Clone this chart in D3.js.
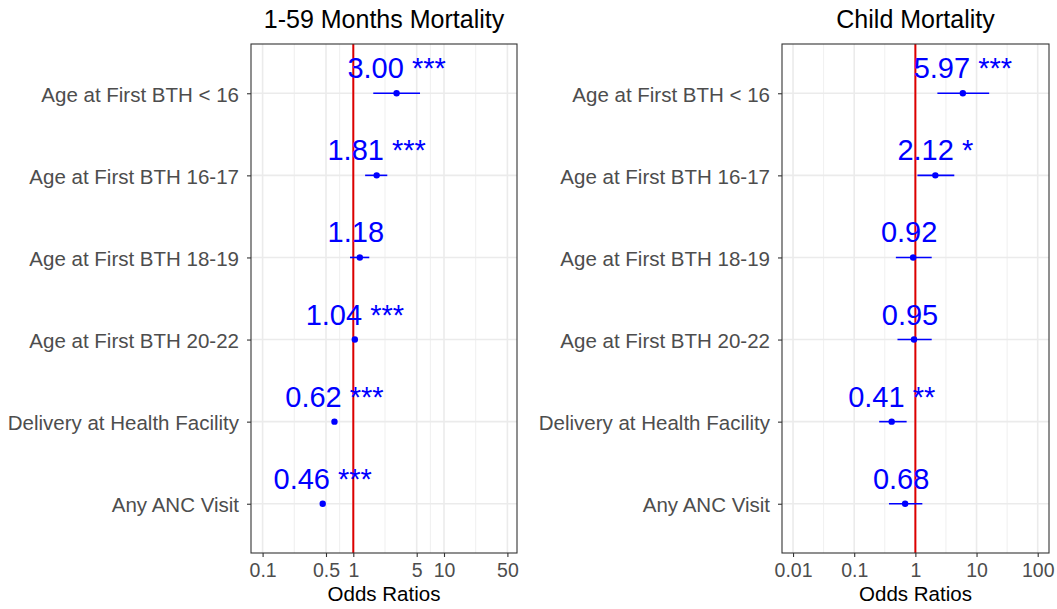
<!DOCTYPE html>
<html>
<head>
<meta charset="utf-8">
<script src="https://cdn.jsdelivr.net/npm/d3@7"></script>
<style>
  html, body { margin: 0; padding: 0; background: #fff; }
  svg { display: block; font-family: "Liberation Sans", Arial, sans-serif; }
</style>
</head>
<body>
<svg id="chart" width="1057" height="609"></svg>
<script>
// ---- data ----
const categories = [
  "Age at First BTH < 16",
  "Age at First BTH 16-17",
  "Age at First BTH 18-19",
  "Age at First BTH 20-22",
  "Delivery at Health Facility",
  "Any ANC Visit"
];
const titles = ["1-59 Months Mortality", "Child Mortality"];

const or1  = [3.00, 1.81, 1.18, 1.04, 0.62, 0.46];
const lo1  = [1.66, 1.35, 0.92, 1.02, 0.60, 0.44];
const hi1  = [5.44, 2.37, 1.50, 1.06, 0.64, 0.48];
const sig1 = ["***", "***", "", "***", "***", "***"];

const or2  = [5.97, 2.12, 0.92, 0.95, 0.41, 0.68];
const lo2  = [2.29, 1.08, 0.48, 0.51, 0.256, 0.37];
const hi2  = [16.1, 4.33, 1.85, 1.85, 0.72, 1.30];
const sig2 = ["***", "*", "", "", "**", ""];

const ticks1 = [0.1, 0.5, 1, 5, 10, 50];
const tickLabels1 = ["0.1", "0.5", "1", "5", "10", "50"];
const ticks2 = [0.01, 0.1, 1, 10, 100];
const tickLabels2 = ["0.01", "0.1", "1", "10", "100"];
const domain1 = [0.0745, 63.8];
const domain2 = [0.0066, 153];

// ---- layout ----
const svg = d3.select("#chart");
const yTop = 44, yBottom = 553;

const panels = [
  { x0: 251, x1: 517, title: titles[0], or: or1, lo: lo1, hi: hi1, sig: sig1,
    ticks: ticks1, labels: tickLabels1, domain: domain1 },
  { x0: 782, x1: 1049, title: titles[1], or: or2, lo: lo2, hi: hi2, sig: sig2,
    ticks: ticks2, labels: tickLabels2, domain: domain2 }
];

const y = d3.scalePoint().domain(categories).range([yTop, yBottom]).padding(0.6);

panels.forEach(p => {
  const x = d3.scaleLog().domain(p.domain).range([p.x0, p.x1]);
  const g = svg.append("g");

  // minor grid: midpoints between breaks in log space
  const lt = p.ticks.map(Math.log10);
  const minors = [];
  for (let i = 0; i < lt.length - 1; i++) minors.push(Math.pow(10, (lt[i] + lt[i + 1]) / 2));

  g.selectAll("line.minor").data(minors).enter().append("line")
    .attr("x1", d => x(d)).attr("x2", d => x(d))
    .attr("y1", yTop).attr("y2", yBottom)
    .attr("stroke", "#ebebeb").attr("stroke-width", 0.8);

  g.selectAll("line.majx").data(p.ticks).enter().append("line")
    .attr("x1", d => x(d)).attr("x2", d => x(d))
    .attr("y1", yTop).attr("y2", yBottom)
    .attr("stroke", "#ebebeb").attr("stroke-width", 1.6);

  g.selectAll("line.majy").data(categories).enter().append("line")
    .attr("x1", p.x0).attr("x2", p.x1)
    .attr("y1", d => y(d)).attr("y2", d => y(d))
    .attr("stroke", "#ebebeb").attr("stroke-width", 1.6);

  // reference line at 1
  g.append("line")
    .attr("x1", x(1)).attr("x2", x(1))
    .attr("y1", yTop).attr("y2", yBottom)
    .attr("stroke", "#dd0000").attr("stroke-width", 2);

  // error bars
  g.selectAll("line.ci").data(categories).enter().append("line")
    .attr("x1", (d, i) => x(p.lo[i])).attr("x2", (d, i) => x(p.hi[i]))
    .attr("y1", d => y(d)).attr("y2", d => y(d))
    .attr("stroke", "#0000ff").attr("stroke-width", 1.6);

  // points
  g.selectAll("circle").data(categories).enter().append("circle")
    .attr("cx", (d, i) => x(p.or[i])).attr("cy", d => y(d))
    .attr("r", 3.2).attr("fill", "#0000ff");

  // value labels
  g.selectAll("text.val").data(categories).enter().append("text")
    .attr("x", (d, i) => x(p.or[i])).attr("y", d => y(d) - 15)
    .attr("text-anchor", "middle")
    .style("white-space", "pre")
    .attr("font-size", 29).attr("fill", "#0000ff")
    .text((d, i) => p.or[i].toFixed(2) + " " + p.sig[i]);

  // panel border
  g.append("rect")
    .attr("x", p.x0).attr("y", yTop)
    .attr("width", p.x1 - p.x0).attr("height", yBottom - yTop)
    .attr("fill", "none").attr("stroke", "#333333").attr("stroke-width", 1.1);

  // x axis
  const xa = g.append("g").attr("transform", `translate(0,${yBottom})`)
    .call(d3.axisBottom(x).tickValues(p.ticks)
      .tickFormat((d, i) => p.labels[i]).tickSize(4).tickPadding(6));
  xa.select(".domain").remove();
  xa.selectAll(".tick line").attr("stroke", "#333333").attr("stroke-width", 1.1);
  xa.selectAll(".tick text").attr("fill", "#4d4d4d").attr("font-size", 19.5)
    .attr("font-family", "Liberation Sans, Arial, sans-serif").attr("dy", "0.71em");

  // y axis
  const ya = g.append("g").attr("transform", `translate(${p.x0},0)`)
    .call(d3.axisLeft(y).tickSize(4).tickPadding(8));
  ya.select(".domain").remove();
  ya.selectAll(".tick line").attr("stroke", "#333333").attr("stroke-width", 1.1);
  ya.selectAll(".tick text").attr("fill", "#4d4d4d").attr("font-size", 20.5)
    .attr("font-family", "Liberation Sans, Arial, sans-serif").attr("dy", "0.38em");

  // titles
  g.append("text")
    .attr("x", (p.x0 + p.x1) / 2).attr("y", 28)
    .attr("text-anchor", "middle").attr("font-size", 25).attr("fill", "#000")
    .text(p.title);

  g.append("text")
    .attr("x", (p.x0 + p.x1) / 2).attr("y", 601)
    .attr("text-anchor", "middle").attr("font-size", 20.5).attr("fill", "#000")
    .text("Odds Ratios");
});
</script>
</body>
</html>
